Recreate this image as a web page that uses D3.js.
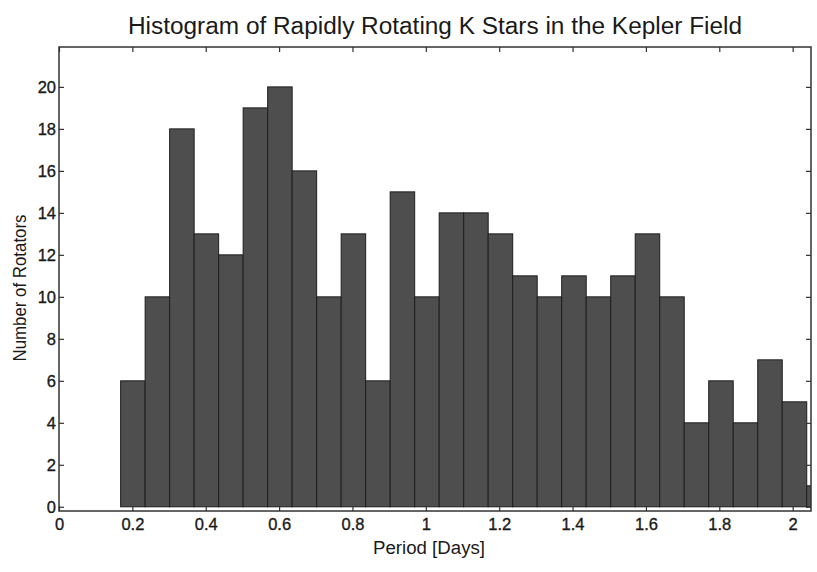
<!DOCTYPE html>
<html>
<head>
<meta charset="utf-8">
<script src="https://cdn.jsdelivr.net/npm/d3@7"></script>
<style>
  body { margin: 0; background: #fff; }
  svg { display: block; font-family: 'Liberation Sans', Arial, sans-serif; }
</style>
</head>
<body>
<svg id="svg" width="817" height="572"></svg>
<script>
// histogram counts per period bin (days)
var binStart = 0.168;
var binWidth = 0.0668;
var counts = [6, 10, 18, 13, 12, 19, 20, 16, 10, 13, 6, 15, 10, 14, 14, 13, 11, 10, 11, 10, 11, 13, 10, 4, 6, 4, 7, 5, 1];
var xTicks = [0, 0.2, 0.4, 0.6, 0.8, 1, 1.2, 1.4, 1.6, 1.8, 2];
var yTicks = [0, 2, 4, 6, 8, 10, 12, 14, 16, 18, 20];

var svg = d3.select('#svg');
var margin = { top: 47, bottom: 61, left: 59, right: 6 };
var width = 817, height = 572;
var innerWidth = width - margin.left - margin.right;
var innerHeight = height - margin.top - margin.bottom;

var bins = counts.map(function (c, i) {
  return { x0: binStart + i * binWidth, x1: binStart + (i + 1) * binWidth, count: c };
});

var xScale = d3.scaleLinear().domain([0, 2.05]).range([0, innerWidth]);
var yScale = d3.scaleLinear().domain([-0.2, 21.9]).range([innerHeight, 0]);

svg.append('defs').append('clipPath').attr('id', 'plotclip')
  .append('rect').attr('width', innerWidth).attr('height', innerHeight);

var g = svg.append('g').attr('transform', 'translate(' + margin.left + ',' + margin.top + ')');

// bars
g.append('g').attr('clip-path', 'url(#plotclip)')
  .selectAll('rect')
  .data(bins)
  .join('rect')
  .attr('x', function (d) { return xScale(d.x0); })
  .attr('width', function (d) { return xScale(d.x1) - xScale(d.x0); })
  .attr('y', function (d) { return yScale(d.count); })
  .attr('height', function (d) { return yScale(0) - yScale(d.count); })
  .attr('fill', '#4e4e4e')
  .attr('stroke', '#1e1e1e')
  .attr('stroke-width', 1);

// axes, ticks pointing inward like a matlab box
var fmt = function (d) { return d3.format('~g')(d); };
var xAxis = d3.axisBottom(xScale).tickValues(xTicks).tickFormat(fmt).tickSizeInner(-5).tickSizeOuter(0).tickPadding(7);
var xTop = d3.axisTop(xScale).tickValues(xTicks).tickSizeInner(-5).tickSizeOuter(0);
var yAxis = d3.axisLeft(yScale).tickValues(yTicks).tickSizeInner(-5).tickSizeOuter(0).tickPadding(3);
var yRight = d3.axisRight(yScale).tickValues(yTicks).tickSizeInner(-5).tickSizeOuter(0);

function styleAxis(sel) {
  sel.select('.domain').remove();
  sel.selectAll('line').attr('stroke', '#333').attr('stroke-width', 1.2);
  sel.selectAll('text')
    .attr('fill', '#1a1a1a')
    .attr('stroke', '#1a1a1a')
    .attr('stroke-width', 0.35)
    .style('font-size', '16.5px')
    .style('font-family', "'Liberation Sans', Arial, sans-serif");
}
function noLabels(sel) {
  sel.selectAll('text').remove();
}

g.append('g').attr('transform', 'translate(0,' + innerHeight + ')').call(xAxis).call(styleAxis);
g.append('g').call(xTop).call(styleAxis).call(noLabels);
g.append('g').call(yAxis).call(styleAxis);
g.append('g').attr('transform', 'translate(' + innerWidth + ',0)').call(yRight).call(styleAxis).call(noLabels);

// box
g.append('rect')
  .attr('width', innerWidth)
  .attr('height', innerHeight)
  .attr('fill', 'none')
  .attr('stroke', '#333')
  .attr('stroke-width', 1.5);

// titles
svg.append('text')
  .attr('x', 435)
  .attr('y', 34)
  .attr('text-anchor', 'middle')
  .attr('textLength', 614)
  .attr('lengthAdjust', 'spacingAndGlyphs')
  .style('font-size', '23px')
  .attr('fill', '#1a1a1a')
  .text('Histogram of Rapidly Rotating K Stars in the Kepler Field');

svg.append('text')
  .attr('x', 429)
  .attr('y', 554)
  .attr('text-anchor', 'middle')
  .attr('textLength', 112)
  .attr('lengthAdjust', 'spacingAndGlyphs')
  .style('font-size', '18px')
  .attr('fill', '#1a1a1a')
  .text('Period [Days]');

svg.append('text')
  .attr('transform', 'rotate(-90)')
  .attr('x', -288)
  .attr('y', 26)
  .attr('text-anchor', 'middle')
  .attr('textLength', 147)
  .attr('lengthAdjust', 'spacingAndGlyphs')
  .style('font-size', '18px')
  .attr('fill', '#1a1a1a')
  .text('Number of Rotators');
</script>
</body>
</html>
